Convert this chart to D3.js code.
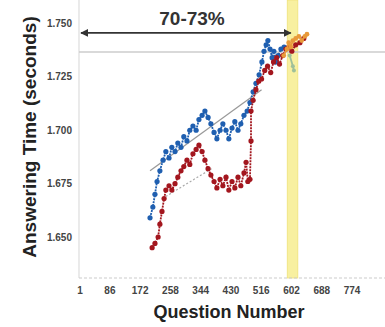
<!DOCTYPE html>
<html><head><meta charset="utf-8">
<script src="https://cdn.jsdelivr.net/npm/d3@7"></script>
<style>body{margin:0;background:#fff}svg{display:block}</style>
</head><body><svg id="c" width="385" height="327"></svg>
<script>
const xTicks=[1,86,172,258,344,430,516,602,688,774];
const yTicks=[1.650,1.675,1.700,1.725,1.750];
const blueQ=[200,208,214,220,228,237,245,254,262,271,279,288,296,305,313,322,331,339,348,356,365,373,382,390,399,407,416,424,433,441,450,458,467,476,484,493,501,510,518,524,530,535,541,547,552,558,564,572,581];
const blueV=[1.659,1.664,1.670,1.676,1.681,1.686,1.690,1.687,1.692,1.690,1.694,1.692,1.697,1.695,1.700,1.702,1.700,1.705,1.707,1.709,1.706,1.703,1.699,1.696,1.700,1.703,1.700,1.696,1.701,1.704,1.700,1.703,1.707,1.709,1.713,1.718,1.722,1.726,1.732,1.737,1.740,1.742,1.738,1.734,1.737,1.732,1.735,1.738,1.739];
const redQ=[206,214,223,228,234,240,245,254,262,271,279,288,296,305,313,322,331,339,348,356,365,373,382,390,399,407,416,424,433,441,450,458,467,473,478,484,487,487,493,501,509,517,526,534,543,551,560,568,577,586,594,603,614,626,637];
const redV=[1.645,1.647,1.650,1.656,1.662,1.668,1.672,1.674,1.672,1.675,1.678,1.681,1.683,1.686,1.684,1.689,1.691,1.693,1.690,1.686,1.682,1.679,1.676,1.673,1.677,1.674,1.678,1.672,1.676,1.673,1.678,1.674,1.680,1.685,1.676,1.677,1.695,1.709,1.714,1.719,1.723,1.724,1.728,1.730,1.727,1.732,1.734,1.731,1.735,1.738,1.739,1.737,1.740,1.741,1.743];
const orangeQ=[580,589,594,600,606,614,623,631,640,646];
const orangeV=[1.735,1.738,1.741,1.739,1.742,1.743,1.744,1.742,1.744,1.745];
const greenQ=[597,606,609];
const greenV=[1.735,1.730,1.728];
const trendQ=[200,517];
const trendV=[1.681,1.719];
const trend2Q=[235,375];
const trend2V=[1.668,1.682];
const bandQ=[590,620];
const arrowV=1.7456;
const refV=1.7366;

const svg=d3.select("#c");
const L=79,R=385,T=0,B=278;
const x=d3.scaleLinear().domain([1,774]).range([80,352]);
const y=d3.scaleLinear().domain([1.650,1.750]).range([237,23.5]);
const FF="Liberation Sans, Arial, sans-serif";

svg.append("rect").attr("x",x(bandQ[0])).attr("y",T).attr("width",x(bandQ[1])-x(bandQ[0])).attr("height",B-T)
  .attr("fill","#f8f0a0").attr("stroke","#efe27a").attr("stroke-width",0.8);
svg.append("line").attr("x1",L).attr("x2",L).attr("y1",T).attr("y2",B).attr("stroke","#ddd").attr("stroke-width",1.2);
svg.append("line").attr("x1",L).attr("x2",R).attr("y1",B).attr("y2",B).attr("stroke","#ccc").attr("stroke-width",1.2).attr("stroke-dasharray","3,2");
svg.append("line").attr("x1",L).attr("x2",R).attr("y1",y(refV)).attr("y2",y(refV)).attr("stroke","#ccc").attr("stroke-width",1.5);

svg.append("g").selectAll("text").data(yTicks).join("text")
  .attr("x",72).attr("y",d=>y(d)+3.5).attr("text-anchor","end")
  .attr("font-family",FF).attr("font-size",10).attr("font-weight","bold").attr("fill","#444")
  .text(d=>d3.format(".3f")(d));
svg.append("g").selectAll("text").data(xTicks).join("text")
  .attr("x",d=>x(d)).attr("y",294).attr("text-anchor","middle")
  .attr("font-family",FF).attr("font-size",10).attr("font-weight","bold").attr("fill","#444")
  .text(d=>d);

svg.append("text").attr("transform","translate(36,137) rotate(-90)").attr("text-anchor","middle")
  .attr("font-family",FF).attr("font-size",19).attr("font-weight","bold").attr("fill","#222")
  .text("Answering Time (seconds)");
svg.append("text").attr("x",229).attr("y",318).attr("text-anchor","middle")
  .attr("font-family",FF).attr("font-size",18).attr("font-weight","bold").attr("fill","#222")
  .text("Question Number");

const defs=svg.append("defs");
defs.append("marker").attr("id","ah").attr("viewBox","0 0 10 10").attr("refX",9).attr("refY",5)
  .attr("markerWidth",5).attr("markerHeight",5).attr("orient","auto-start-reverse")
  .append("path").attr("d","M0,0L10,5L0,10z").attr("fill","#333");
svg.append("line").attr("x1",x(1)+1).attr("x2",x(600)).attr("y1",y(arrowV)).attr("y2",y(arrowV))
  .attr("stroke","#333").attr("stroke-width",1.6).attr("marker-start","url(#ah)").attr("marker-end","url(#ah)");
svg.append("text").attr("x",192).attr("y",25).attr("text-anchor","middle")
  .attr("font-family",FF).attr("font-size",19).attr("font-weight","bold").attr("fill","#333")
  .text("70-73%");

svg.append("line").attr("x1",x(trendQ[0])).attr("x2",x(trendQ[1])).attr("y1",y(trendV[0])).attr("y2",y(trendV[1]))
  .attr("stroke","#999").attr("stroke-width",1.2);
svg.append("line").attr("x1",x(trend2Q[0])).attr("x2",x(trend2Q[1])).attr("y1",y(trend2V[0])).attr("y2",y(trend2V[1]))
  .attr("stroke","#aaa").attr("stroke-width",1.2).attr("stroke-dasharray","2,2");

function series(Q,V,col,r,dash){
  const pts=Q.map((q,i)=>[q,V[i]]);
  svg.append("path").datum(pts).attr("d",d3.line().x(d=>x(d[0])).y(d=>y(d[1])))
    .attr("fill","none").attr("stroke",col).attr("stroke-width",1.8).attr("stroke-dasharray",dash||null);
  svg.append("g").selectAll("circle").data(pts).join("circle")
    .attr("cx",d=>x(d[0])).attr("cy",d=>y(d[1])).attr("r",r).attr("fill",col);
}
series(blueQ,blueV,"#1f5fb0",2.6,"2,1");
series(redQ,redV,"#a3161e",2.6,"2,1");
series(greenQ,greenV,"#9fc09a",2,null);
series(orangeQ,orangeV,"#e89a3a",2.4,null);
</script></body></html>
